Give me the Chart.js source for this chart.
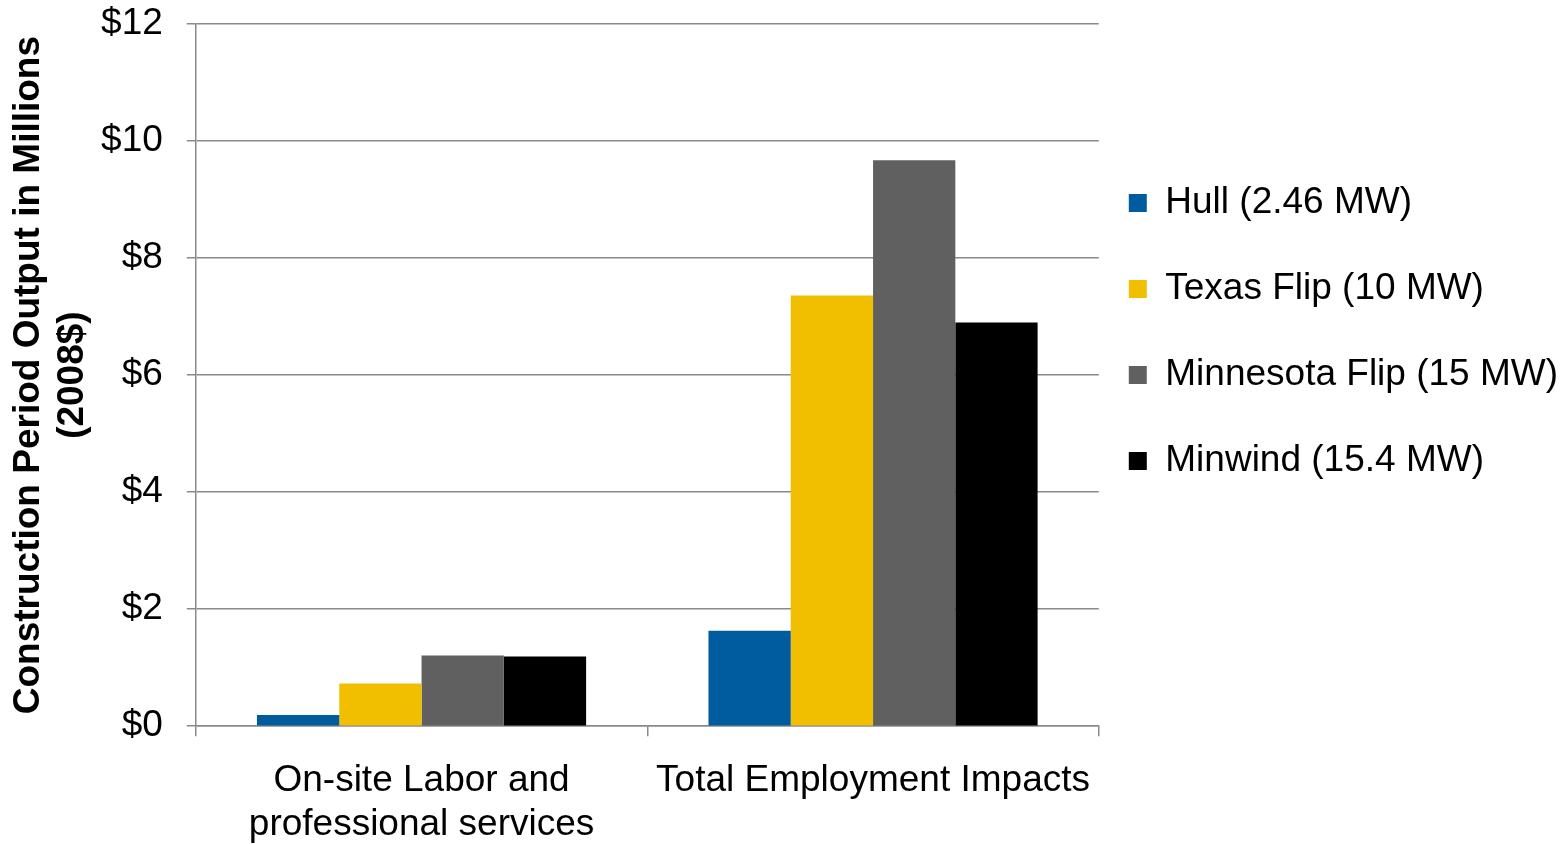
<!DOCTYPE html>
<html>
<head>
<meta charset="utf-8">
<script src="https://cdn.jsdelivr.net/npm/chart.js@4"></script>
<style>
  html, body { margin: 0; padding: 0; background: #ffffff; }
  #wrap { width: 1564px; height: 844px; }
</style>
</head>
<body>
<div id="wrap"><canvas id="c" width="1564" height="844"></canvas></div>
<script>
const categories = [['On-site Labor and', 'professional services'], 'Total Employment Impacts'];
const seriesNames = ['Hull (2.46 MW)', 'Texas Flip (10 MW)', 'Minnesota Flip (15 MW)', 'Minwind (15.4 MW)'];
const hull = [0.19, 1.63];
const texasFlip = [0.73, 7.36];
const minnesotaFlip = [1.21, 9.67];
const minwind = [1.19, 6.90];
const yTitle = ['Construction Period Output in Millions', '(2008$)'];
const colors = ['#005b9f', '#f2be00', '#606060', '#000000'];

const legendShift = {
  id: 'legendShift',
  afterLayout(chart) {
    const l = chart.legend;
    if (l) { l.left -= 19; }
  }
};

const seriesValues = [hull, texasFlip, minnesotaFlip, minwind];
const FONT = 'Liberation Sans, Arial, sans-serif';

new Chart(document.getElementById('c'), {
  type: 'bar',
  data: {
    labels: categories,
    datasets: seriesValues.map((vals, i) => ({
      label: seriesNames[i],
      data: vals,
      backgroundColor: colors[i],
      borderWidth: 0,
      categoryPercentage: 0.729,
      barPercentage: 1.0
    }))
  },
  plugins: [legendShift],
  options: {
    responsive: false,
    animation: false,
    layout: { padding: { left: 3, top: 0, right: -23, bottom: -25 } },
    plugins: {
      tooltip: { enabled: false },
      legend: {
        position: 'right',
        align: 'start',
        maxWidth: 520,
        title: { display: true, text: ' ', font: { size: 10 }, padding: { top: 0, bottom: 123.5 } },
        labels: {
          boxWidth: 18,
          boxHeight: 18,
          padding: 49,
          color: '#000000',
          font: { family: FONT, size: 37 }
        }
      }
    },
    scales: {
      x: {
        grid: { drawOnChartArea: false, offset: true, color: '#8a8a8a', lineWidth: 1.5, tickLength: 10 },
        border: { color: '#8a8a8a', width: 1.5 },
        ticks: {
          color: '#000000',
          padding: 22,
          maxRotation: 0,
          autoSkip: false,
          font: { family: FONT, size: 37 }
        }
      },
      y: {
        min: 0,
        max: 12,
        grid: { color: '#8a8a8a', lineWidth: 1.5, tickLength: 9 },
        border: { color: '#8a8a8a', width: 1.5 },
        ticks: {
          stepSize: 2,
          color: '#000000',
          padding: 24,
          font: { family: FONT, size: 37, lineHeight: 0 },
          callback: (v) => '$' + v
        },
        title: {
          display: true,
          text: yTitle,
          color: '#000000',
          padding: { top: 4, bottom: -18 },
          font: { family: FONT, size: 37, weight: 'bold', lineHeight: 1.19 }
        }
      }
    }
  }
});
</script>
</body>
</html>
